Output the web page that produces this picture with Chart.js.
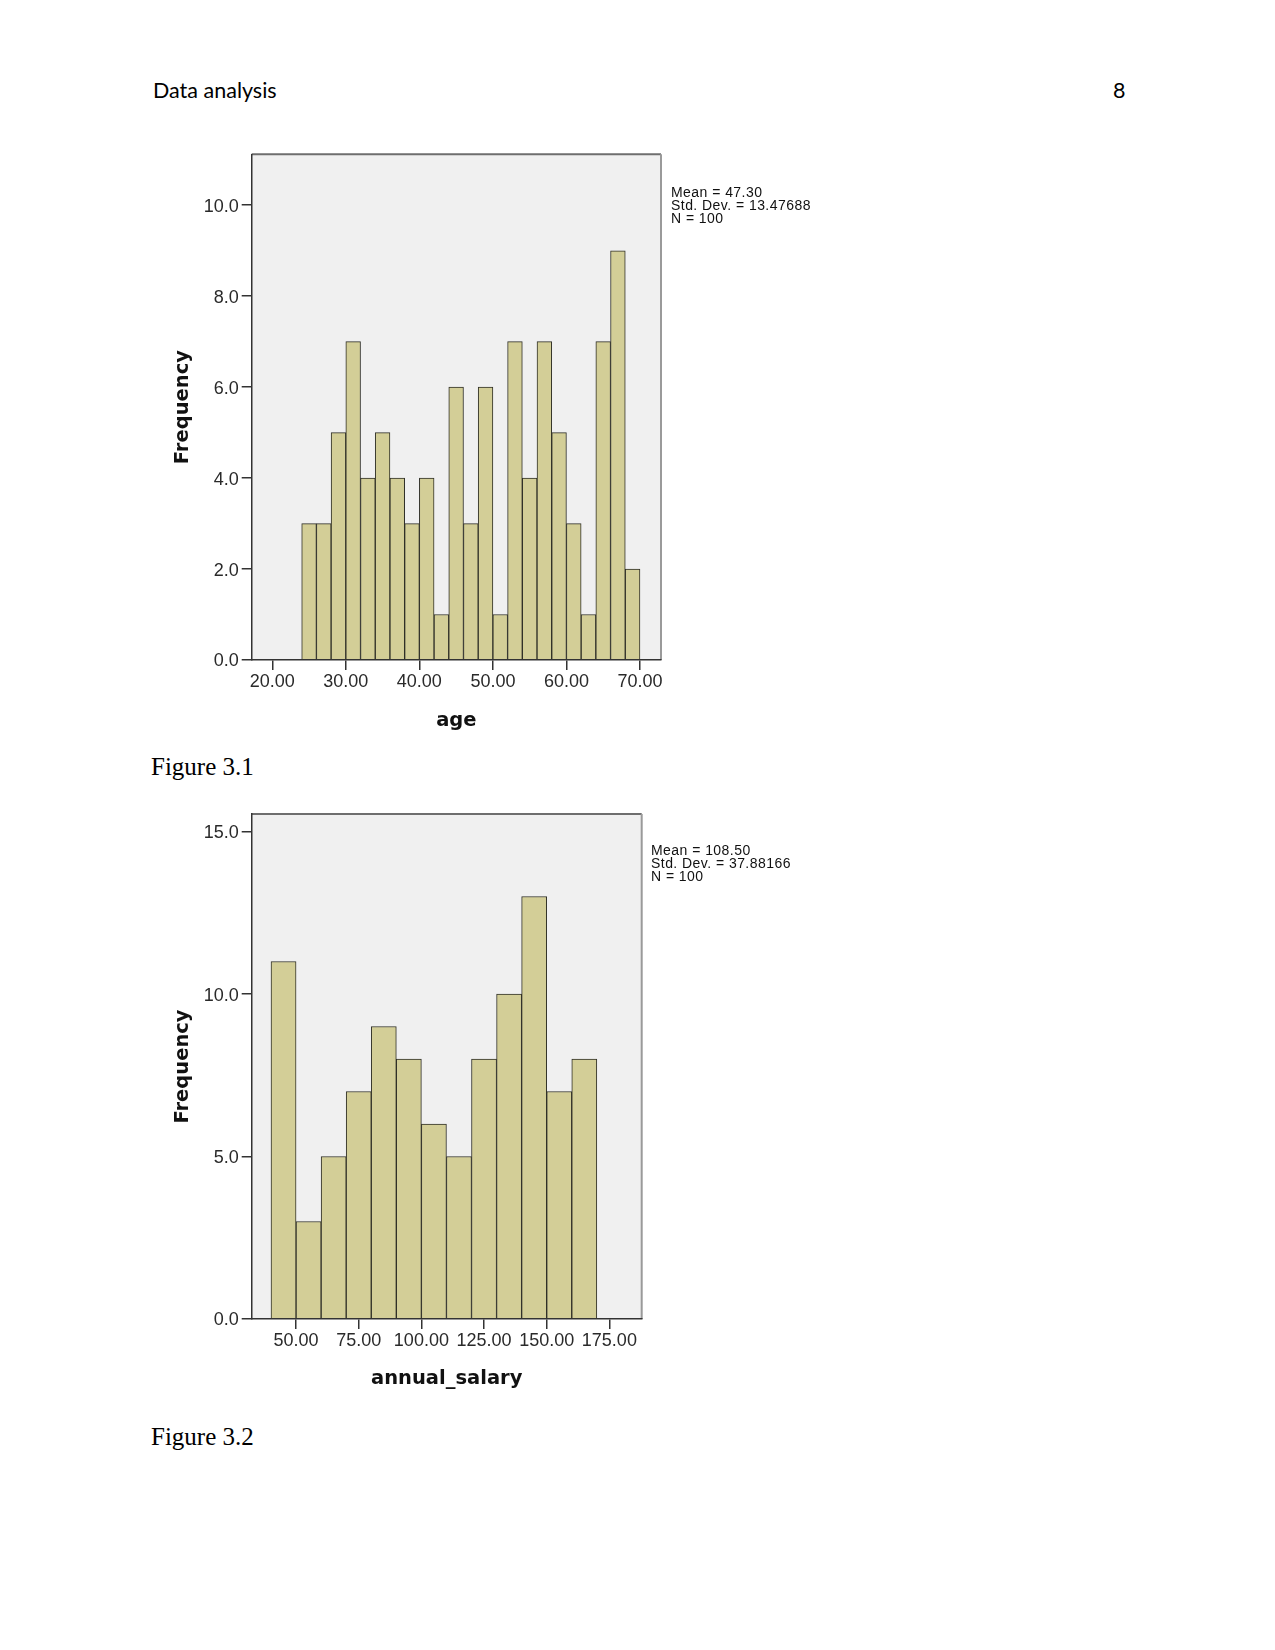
<!DOCTYPE html>
<html>
<head>
<meta charset="utf-8">
<script src="https://cdn.jsdelivr.net/npm/chart.js@4.4.1/dist/chart.umd.min.js"></script>
<style>
  html, body { margin: 0; padding: 0; background: #fff; }
  body { width: 1275px; height: 1650px; position: relative; overflow: hidden; }
  .abs { position: absolute; white-space: nowrap; }
  .hdr { font-family: Lato, "Open Sans", sans-serif; font-size: 21.5px; line-height: 1; color: #000; }
  .fig { font-family: "Liberation Serif", "Times New Roman", serif; font-size: 25px; color: #000; }
  .stats { font-family: "Liberation Sans", Arial, sans-serif; font-size: 14px; line-height: 12.8px; color: #111; letter-spacing: 0.45px; }
  canvas { position: absolute; }
</style>
</head>
<body>
<div class="abs hdr" style="left:153px; top:80px;">Data analysis</div>
<div class="abs hdr" style="left:1113px; top:80px;">8</div>

<canvas id="c1" width="650" height="600" style="left:150px; top:140px;"></canvas>
<div class="abs stats" style="left:671px; top:186px;">Mean = 47.30<br>Std. Dev. = 13.47688<br>N = 100</div>
<div class="abs fig" style="left:151px; top:753px;">Figure 3.1</div>

<canvas id="c2" width="650" height="600" style="left:150px; top:800px;"></canvas>
<div class="abs stats" style="left:651px; top:844px;">Mean = 108.50<br>Std. Dev. = 37.88166<br>N = 100</div>
<div class="abs fig" style="left:151px; top:1423px;">Figure 3.2</div>

<script>
// ---------- Figure 3.1 : age ----------
const ageBinCenters = [25, 27, 29, 31, 33, 35, 37, 39, 41, 43, 45, 47, 49, 51, 53, 55, 57, 59, 61, 63, 65, 67, 69];
const ageCounts     = [3, 3, 5, 7, 4, 5, 4, 3, 4, 1, 6, 3, 6, 1, 7, 4, 7, 5, 3, 1, 7, 9, 2];
const ageXTicks     = [20, 30, 40, 50, 60, 70];
const ageYTicks     = [0, 2, 4, 6, 8, 10];

// ---------- Figure 3.2 : annual_salary ----------
const salaryBinCenters = [45, 55, 65, 75, 85, 95, 105, 115, 125, 135, 145, 155, 165];
const salaryCounts     = [11, 3, 5, 7, 9, 8, 6, 5, 8, 10, 13, 7, 8];
const salaryXTicks     = [50, 75, 100, 125, 150, 175];
const salaryYTicks     = [0, 5, 10, 15];

const BAR_FILL = '#d3ce97';
const BAR_EDGE = '#2e2e26';
const PLOT_BG = '#f0f0f0';
const AXIS = '#333333';
const TICK_FONT = { family: 'Liberation Sans', size: 18 };
const TITLE_FONT = { family: 'DejaVu Sans', size: 19.5, weight: 'bold' };

const plotFrame = {
  id: 'plotFrame',
  beforeDraw(chart) {
    const { ctx, chartArea: a } = chart;
    ctx.save();
    ctx.fillStyle = PLOT_BG;
    ctx.fillRect(a.left, a.top, a.right - a.left, a.bottom - a.top);
    ctx.restore();
  },
  afterDatasetsDraw(chart) {
    const { ctx, chartArea: a } = chart;
    ctx.save();
    ctx.lineWidth = 2;
    ctx.strokeStyle = '#6e6e6e';
    ctx.beginPath();
    ctx.moveTo(a.left, a.top);
    ctx.lineTo(a.right, a.top);
    ctx.stroke();
    ctx.strokeStyle = '#9a9a9a';
    ctx.beginPath();
    ctx.moveTo(a.right, a.top);
    ctx.lineTo(a.right, a.bottom);
    ctx.stroke();
    ctx.restore();
  }
};

function makeHist(id, centers, counts, cfg) {
  const ctx = document.getElementById(id).getContext('2d');
  return new Chart(ctx, {
    type: 'bar',
    data: {
      datasets: [{
        data: centers.map((c, i) => ({ x: c, y: counts[i] })),
        backgroundColor: BAR_FILL,
        borderColor: BAR_EDGE,
        borderWidth: 1,
        barPercentage: 1,
        categoryPercentage: 1
      }]
    },
    options: {
      responsive: false,
      animation: false,
      devicePixelRatio: 1,
      layout: { padding: cfg.padding },
      plugins: { legend: { display: false }, tooltip: { enabled: false } },
      scales: {
        x: {
          type: 'linear',
          position: 'bottom',
          offset: false,
          min: cfg.xMin,
          max: cfg.xMax,
          afterBuildTicks: s => { s.ticks = cfg.xTicks.map(v => ({ value: v })); },
          afterFit: s => { s.height = cfg.xHeight; },
          ticks: { font: TICK_FONT, color: '#2a2a2a', padding: 1.5, maxRotation: 0, autoSkip: false,
                   callback: v => Number(v).toFixed(2) },
          grid: { display: true, offset: false, drawOnChartArea: false, drawTicks: true, tickLength: 10, color: AXIS, lineWidth: 1.5 },
          border: { display: true, color: AXIS, width: 1.5, z: 1 },
          title: { display: true, text: cfg.xTitle, font: TITLE_FONT, color: '#111',
                   padding: { top: 0, bottom: cfg.xTitlePad } }
        },
        y: {
          type: 'linear',
          position: 'left',
          min: 0,
          max: cfg.yMax,
          afterBuildTicks: s => { s.ticks = cfg.yTicks.map(v => ({ value: v })); },
          afterFit: s => { s.width = 101.7; },
          ticks: { font: TICK_FONT, color: '#2a2a2a', padding: 3, labelOffset: 1.5, autoSkip: false,
                   callback: v => Number(v).toFixed(1) },
          grid: { display: true, offset: false, drawOnChartArea: false, drawTicks: true, tickLength: 10, color: AXIS, lineWidth: 1.5 },
          border: { display: true, color: AXIS, width: 1.5, z: 1 },
          title: { display: true, text: 'Frequency', font: TITLE_FONT, color: '#111',
                   padding: { top: 21.3, bottom: 0 } }
        }
      }
    },
    plugins: [plotFrame]
  });
}

makeHist('c1', ageBinCenters, ageCounts, {
  padding: { top: 14.3, right: 139, left: 0, bottom: 0 },
  xMin: 17.2, xMax: 72.86, xTicks: ageXTicks,
  yMax: 11.12, yTicks: ageYTicks,
  xHeight: 80, xTitle: 'age', xTitlePad: 7.5
});

makeHist('c2', salaryBinCenters, salaryCounts, {
  padding: { top: 14, right: 158.3, left: 0, bottom: 0 },
  xMin: 32.3, xMax: 187.9, xTicks: salaryXTicks,
  yMax: 15.54, yTicks: salaryYTicks,
  xHeight: 81, xTitle: 'annual_salary', xTitlePad: 9.5
});
</script>
</body>
</html>
